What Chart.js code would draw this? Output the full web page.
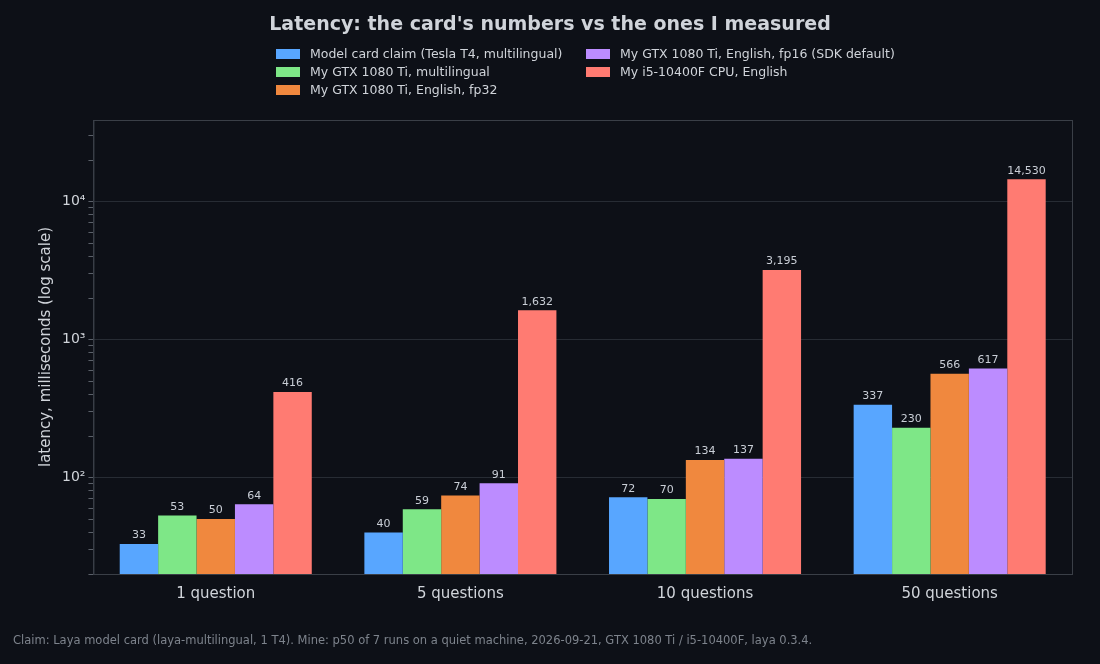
<!DOCTYPE html>
<html>
<head>
<meta charset="utf-8">
<script src="https://cdn.jsdelivr.net/npm/chart.js@4"></script>
<style>
  html, body { margin: 0; padding: 0; background: #0d1017; }
  #wrap { position: relative; width: 1100px; height: 664px; font-family: "DejaVu Sans", sans-serif; }
  #title { position: absolute; top: 12px; width: 100%; text-align: center; color: #d0d4da; font-size: 19px; font-weight: bold; }
  #legend { position: absolute; top: 46px; left: 276px; display: grid; grid-template-columns: 310px 330px; row-gap: 3px; color: #d0d4da; font-size: 12.5px; white-space: nowrap; }
  #legend span.sw { display: inline-block; width: 24px; height: 10px; margin-right: 10px; vertical-align: -1px; }
  #foot { position: absolute; left: 13px; top: 633px; color: #7d838c; font-size: 11.5px; }
  canvas { position: absolute; left: 0; top: 0; }
</style>
</head>
<body>
<div id="wrap">
  <canvas id="latencyChart" width="1100" height="664"></canvas>
  <div id="title">Latency: the card's numbers vs the ones I measured</div>
  <div id="legend"></div>
  <div id="foot">Claim: Laya model card (laya-multilingual, 1 T4). Mine: p50 of 7 runs on a quiet machine, 2026-09-21, GTX 1080 Ti / i5-10400F, laya 0.3.4.</div>
</div>
<script>
const categories = ["1 question", "5 questions", "10 questions", "50 questions"]
const seriesNames = [
  "Model card claim (Tesla T4, multilingual)",
  "My GTX 1080 Ti, multilingual",
  "My GTX 1080 Ti, English, fp32",
  "My GTX 1080 Ti, English, fp16 (SDK default)",
  "My i5-10400F CPU, English"
]
const cardClaim = [33, 40, 72, 337]
const gtxMulti = [53, 59, 70, 230]
const gtxFp32 = [50, 74, 134, 566]
const gtxFp16 = [64, 91, 137, 617]
const cpuEnglish = [416, 1632, 3195, 14530]
const colors = ["#58a6ff", "#7ee787", "#f0883e", "#bc8cff", "#ff7b72"]
const legendOrder = [0, 3, 1, 4, 2]

const seriesValues = [cardClaim, gtxMulti, gtxFp32, gtxFp16, cpuEnglish]

// html legend, two columns like the original
const legendEl = document.getElementById('legend')
legendOrder.forEach(i => {
    const d = document.createElement('div')
    d.innerHTML = `<span class="sw" style="background:${colors[i]}"></span>${seriesNames[i]}`
    legendEl.appendChild(d)
})

const valueLabels = {
    id: 'valueLabels',
    afterDatasetsDraw(chart) {
        const ctx = chart.ctx
        ctx.save()
        ctx.fillStyle = '#c9ced6'
        ctx.font = '11px "DejaVu Sans"'
        ctx.textAlign = 'center'
        ctx.textBaseline = 'bottom'
        chart.data.datasets.forEach((ds, i) => {
            chart.getDatasetMeta(i).data.forEach((bar, j) => {
                ctx.fillText(ds.data[j].toLocaleString('en-US'), bar.x, bar.y - 3)
            })
        })
        ctx.restore()
    }
}

// frame around the plot area
const frame = {
    id: 'frame',
    afterDraw(chart) {
        const { ctx, chartArea: a } = chart
        ctx.save()
        ctx.strokeStyle = '#3a3f47'
        ctx.lineWidth = 1
        ctx.strokeRect(a.left + 0.5, a.top + 0.5, a.right - a.left, a.bottom - a.top)
        ctx.restore()
    }
}

const supers = { 2: '²', 3: '³', 4: '⁴' }

new Chart(document.getElementById('latencyChart').getContext('2d'), {
    type: 'bar',
    data: {
        labels: categories,
        datasets: seriesValues.map((vals, i) => ({
            label: seriesNames[i],
            data: vals,
            backgroundColor: colors[i],
            borderWidth: 0,
            barPercentage: 1,
            categoryPercentage: 0.785
        }))
    },
    options: {
        responsive: false,
        animation: false,
        layout: { padding: { top: 120, right: 28, bottom: 58, left: 33 } },
        plugins: {
            legend: { display: false },
            tooltip: { enabled: false }
        },
        scales: {
            x: {
                grid: { display: false },
                border: { color: '#3a3f47' },
                ticks: { color: '#d0d4da', font: { size: 15, family: 'DejaVu Sans' } }
            },
            y: {
                type: 'logarithmic',
                min: 20,
                max: 39000,
                border: { color: '#3a3f47' },
                title: { display: true, text: 'latency, milliseconds (log scale)', color: '#d0d4da', font: { size: 15, family: 'DejaVu Sans' } },
                afterBuildTicks(axis) {
                    const t = []
                    for (let e = 1; e <= 4; e++) {
                        for (let m = 1; m <= 9; m++) {
                            const v = m * Math.pow(10, e)
                            if (v >= 20 && v <= 39000) t.push({ value: v, major: m === 1 })
                        }
                    }
                    axis.ticks = t
                },
                ticks: {
                    color: '#d0d4da',
                    font: { size: 14, family: 'DejaVu Sans' },
                    autoSkip: false,
                    callback: v => {
                        const e = Math.log10(v)
                        return Number.isInteger(e) ? '10' + supers[e] : ''
                    }
                },
                grid: {
                    color: c => (c.tick && Number.isInteger(Math.log10(c.tick.value))) ? '#272c34' : 'rgba(0,0,0,0)',
                    tickColor: '#5a6069',
                    tickLength: 5
                }
            }
        }
    },
    plugins: [valueLabels, frame]
})
</script>
</body>
</html>
